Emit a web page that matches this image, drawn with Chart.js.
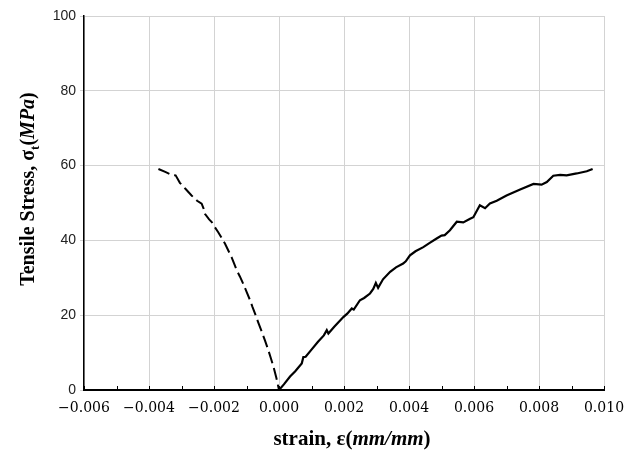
<!DOCTYPE html>
<html>
<head>
<meta charset="utf-8">
<script src="https://cdn.jsdelivr.net/npm/chart.js@4/dist/chart.umd.min.js"></script>
<style>
  html, body { margin: 0; padding: 0; background: #fff; }
  canvas { display: block; }
</style>
</head>
<body>
<canvas id="chart" width="625" height="452"></canvas>
<script>
// compression branch (dashed)
const compStrain = [-0.00371, -0.0035, -0.0033, -0.00318, -0.00305, -0.00288, -0.00269, -0.00252,
  -0.00238, -0.00232, -0.00228, -0.00215, -0.00207, -0.00197, -0.00187, -0.00176, -0.00166,
  -0.00156, -0.00146, -0.00138, -0.0013, -0.0012, -0.0011, -0.001, -0.00089, -0.00082, -0.00074,
  -0.00064, -0.00053, -0.00043, -0.00033, -0.00025, -0.00017, -0.00008, 0];
const compStress = [59.1, 58.3, 57.5, 57.4, 55.4, 53.8, 52.0, 50.6,
  49.8, 48.5, 47.1, 45.6, 44.9, 43.5, 42.2, 40.6, 39.1,
  37.3, 35.5, 33.8, 32.0, 30.3, 28.4, 26.3, 24.0, 22.3, 20.5,
  18.1, 15.6, 13.2, 10.7, 8.5, 6.2, 3.2, 0];

// tension branch (solid)
const tensStrain = [0, 0.00015, 0.00034, 0.0005, 0.0007, 0.00075, 0.00082, 0.001, 0.0012, 0.00138,
  0.00147, 0.00152, 0.0017, 0.00198, 0.0021, 0.00224, 0.0023, 0.00249, 0.00262, 0.0028, 0.0029,
  0.00298, 0.00305, 0.0032, 0.00342, 0.0036, 0.00382, 0.0039, 0.00403, 0.0042, 0.00444, 0.00465,
  0.00485, 0.005, 0.0051, 0.00526, 0.00547, 0.00567, 0.00588, 0.00598, 0.00618, 0.00634, 0.00649,
  0.0067, 0.007, 0.00742, 0.00783, 0.00808, 0.00824, 0.00844, 0.00865, 0.00885, 0.00916, 0.00947, 0.00965];
const tensStress = [0, 1.5, 3.6, 5.0, 7.1, 8.8, 8.9, 10.8, 12.9, 14.6,
  16.0, 15.1, 16.9, 19.5, 20.4, 21.8, 21.5, 24.0, 24.6, 25.8, 27.0,
  28.6, 27.3, 29.6, 31.6, 32.8, 33.8, 34.4, 36.0, 37.1, 38.2, 39.4,
  40.5, 41.3, 41.4, 42.7, 45.0, 44.8, 45.8, 46.2, 49.4, 48.6, 49.9,
  50.6, 52.0, 53.6, 55.1, 54.9, 55.6, 57.3, 57.5, 57.4, 57.9, 58.5, 59.1];

// axis ranges / ticks
const xMin = -0.006, xMax = 0.010, xStep = 0.002, xMinorStep = 0.001;
const yMin = 0, yMax = 100, yStep = 20;

function toPoints(xs, ys) {
  return xs.map((x, i) => ({ x: x, y: ys[i] }));
}

// small inward ticks on the bottom axis plus the mixed-style axis titles
const extrasPlugin = {
  id: 'extras',
  afterDraw(chart) {
    const ctx = chart.ctx;
    const xs = chart.scales.x;
    const area = chart.chartArea;
    ctx.save();
    ctx.strokeStyle = '#000';
    ctx.lineWidth = 1;
    for (let v = xMin; v <= xMax + 1e-9; v += xMinorStep) {
      const px = Math.round(xs.getPixelForValue(v)) + 0.5;
      ctx.beginPath();
      ctx.moveTo(px, area.bottom);
      ctx.lineTo(px, area.bottom - 4);
      ctx.stroke();
    }

    // pieces: [text, font, dy]
    function drawPieces(pieces, cx, cy) {
      let total = 0;
      pieces.forEach(p => { ctx.font = p[1]; total += ctx.measureText(p[0]).width; });
      let x = cx - total / 2;
      pieces.forEach(p => {
        ctx.font = p[1];
        ctx.fillText(p[0], x, cy + (p[2] || 0));
        x += ctx.measureText(p[0]).width;
      });
    }
    ctx.fillStyle = '#000';
    ctx.textBaseline = 'alphabetic';
    ctx.textAlign = 'left';
    const bx = 'bold 21px "Liberation Serif"';
    const bix = 'italic bold 21px "Liberation Serif"';
    drawPieces([['strain, ε(', bx], ['mm/mm', bix], [')', bx]], 352, 445);

    const b = 'bold 20px "Liberation Serif"';
    const bi = 'italic bold 20px "Liberation Serif"';
    ctx.translate(34, 189);
    ctx.rotate(-Math.PI / 2);
    drawPieces([['Tensile Stress, σ', b], ['t', 'bold 13px "Liberation Serif"', 5],
      ['(', b], ['MPa', bi], [')', b]], 0, 0);
    ctx.restore();
  }
};

const chart = new Chart(document.getElementById('chart'), {
  type: 'scatter',
  data: {
    datasets: [
      {
        label: 'compression',
        data: toPoints(compStrain, compStress),
        showLine: true,
        borderColor: '#000',
        borderWidth: 2,
        borderDash: [12, 5],
        pointRadius: 0,
        tension: 0
      },
      {
        label: 'tension',
        data: toPoints(tensStrain, tensStress),
        showLine: true,
        borderColor: '#000',
        borderWidth: 2.2,
        pointRadius: 0,
        tension: 0
      }
    ]
  },
  options: {
    responsive: false,
    animation: false,
    layout: { padding: { top: 16, right: 21, left: 0, bottom: 0 } },
    plugins: {
      legend: { display: false },
      tooltip: { enabled: false }
    },
    scales: {
      x: {
        type: 'linear',
        min: xMin,
        max: xMax,
        afterFit(scale) {
          scale.height = 62;
          scale.paddingLeft = 0;
          scale.paddingRight = 0;
        },
        border: { display: true, color: '#000', width: 2 },
        grid: { color: '#d3d3d3', lineWidth: 1, drawTicks: false },
        ticks: {
          stepSize: xStep,
          padding: 10,
          color: '#000',
          font: { family: '"DejaVu Serif"', size: 14 },
          callback(v) {
            if (Math.abs(v) < 1e-9) return '0.000';
            return v.toFixed(3).replace('-', '\u2212');
          }
        }
      },
      y: {
        min: yMin,
        max: yMax,
        afterFit(scale) {
          scale.width = 84;
          scale.paddingTop = 0;
          scale.paddingBottom = 0;
        },
        border: { display: true, color: '#000', width: 1.5 },
        grid: { color: '#d3d3d3', lineWidth: 1, tickLength: 4 },
        ticks: {
          stepSize: yStep,
          padding: 4,
          color: '#222',
          font: { family: '"Liberation Sans"', size: 14 }
        }
      }
    }
  },
  plugins: [extrasPlugin]
});
</script>
</body>
</html>
